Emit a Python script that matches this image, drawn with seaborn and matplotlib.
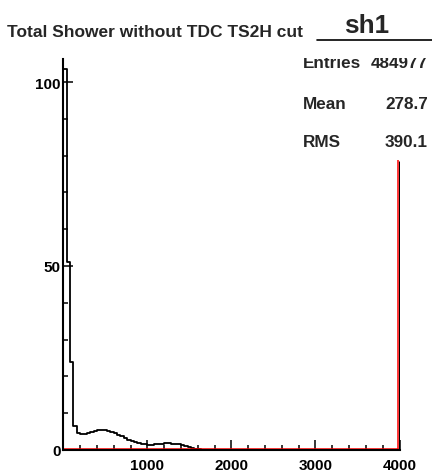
import numpy as np
import pandas as pd
import matplotlib
matplotlib.use("Agg")
import matplotlib.pyplot as plt
import seaborn as sns
from matplotlib.lines import Line2D
from matplotlib.transforms import Bbox, TransformedBbox, ScaledTranslation

# histogram contents (100 bins of 40 from 0 to 4000)
counts = [103.5, 51.0, 23.8, 6.6, 4.5, 4.3, 4.3, 4.5, 4.8, 5.1,
          5.3, 5.4, 5.4, 5.2, 4.9, 4.5, 4.1, 3.7, 3.2, 2.8,
          2.5, 2.2, 1.9, 1.7, 1.5, 1.4, 1.4, 1.5, 1.6, 1.7,
          1.8, 1.8, 1.75, 1.65, 1.5, 1.3, 1.1, 0.9, 0.6, 0.35,
          0.15, 0.05] + [0.0] * 58
cut_counts = [0.0] * 100
overflow = 78.5
cut_overflow = 78.5

x_min, x_max, bin_w = 0, 4000, 40
centers = np.arange(x_min, x_max, bin_w) + bin_w / 2

title = "Total Shower without TDC TS2H cut"
hist_name = "sh1"
stat_names = ["Entries", "Mean", "RMS"]
stat_values = ["484977", "278.7", "390.1"]

df = pd.DataFrame({"x": centers, "w": counts, "w_cut": cut_counts})

sns.set_style("ticks")
plt.rcParams['font.family'] = ['Liberation Sans', 'DejaVu Sans']
plt.rcParams['font.weight'] = 'bold'

fig = plt.figure(figsize=(4.32, 4.77), dpi=100)
ax = fig.add_axes([63.3 / 432, 1 - 451 / 477, (399.5 - 63.3) / 432, (451 - 60) / 477])

# black: total shower
sns.histplot(data=df, x="x", weights="w", binwidth=bin_w, binrange=(x_min, x_max),
             element="step", fill=False, color="black", linewidth=1.3, ax=ax)
ax.vlines(x_max, 0, overflow, color="black", linewidth=2.2)

# red: with cut, shifted by a pixel like in the original
shift = ScaledTranslation(-1.2 / 100, 1 / 100, fig.dpi_scale_trans)
sns.histplot(data=df, x="x", weights="w_cut", binwidth=bin_w, binrange=(x_min, x_max),
             element="step", fill=False, color="red", linewidth=1.1, ax=ax)
ax.lines[-1].set_transform(ax.transData + shift)
red_spike = ax.vlines(x_max, 0, cut_overflow, color="red", linewidth=1.1)
red_spike.set_transform(ax.transData + shift)

ax.set_xlim(x_min, x_max)
ax.set_ylim(0, 106.25)
ax.set_xlabel("")
ax.set_ylabel("")

for s in ["top", "right"]:
    ax.spines[s].set_visible(False)
for s in ["left", "bottom"]:
    ax.spines[s].set_linewidth(1.5)
    ax.spines[s].set_color("black")

ax.set_xticks([1000, 2000, 3000, 4000])
ax.set_xticks(np.arange(0, 4001, 200), minor=True)
ax.set_yticks([0, 50, 100])
ax.set_yticks(np.arange(0, 101, 10), minor=True)
ax.tick_params(which="both", direction="in", width=1.1, colors="black", labelsize=11)
ax.tick_params(which="major", length=7.5)
ax.tick_params(which="minor", length=3.6)
ax.tick_params(axis="x", pad=6)
ax.tick_params(axis="y", pad=2)
for lab in ax.get_xticklabels() + ax.get_yticklabels():
    lab.set_fontweight("bold")

fig.text(7 / 432, 1 - 36.7 / 477, title, fontsize=12.5, fontweight="bold", va="baseline")
fig.text(367 / 432, 1 - 33.3 / 477, hist_name, fontsize=18.8, fontweight="bold",
         ha="center", va="baseline")
fig.add_artist(Line2D([316.7 / 432, 1.0], [1 - 40.7 / 477] * 2, color="black", linewidth=1.2,
                      transform=fig.transFigure))

# stats box text, top row cut by the box edge as in the original
clip = TransformedBbox(Bbox([[0.6, 0.0], [1.0, 1 - 59 / 477]]), fig.transFigure)
for name, val, yb in zip(stat_names, stat_values, [67.5, 109, 147]):
    t1 = fig.text(303 / 432, 1 - yb / 477, name, fontsize=12.3, fontweight="bold", va="baseline")
    t2 = fig.text(428 / 432, 1 - yb / 477, val, fontsize=12.3, fontweight="bold", va="baseline",
                  ha="right")
    t1.set_clip_box(clip)
    t2.set_clip_box(clip)

fig.savefig("out.png", dpi=100)
